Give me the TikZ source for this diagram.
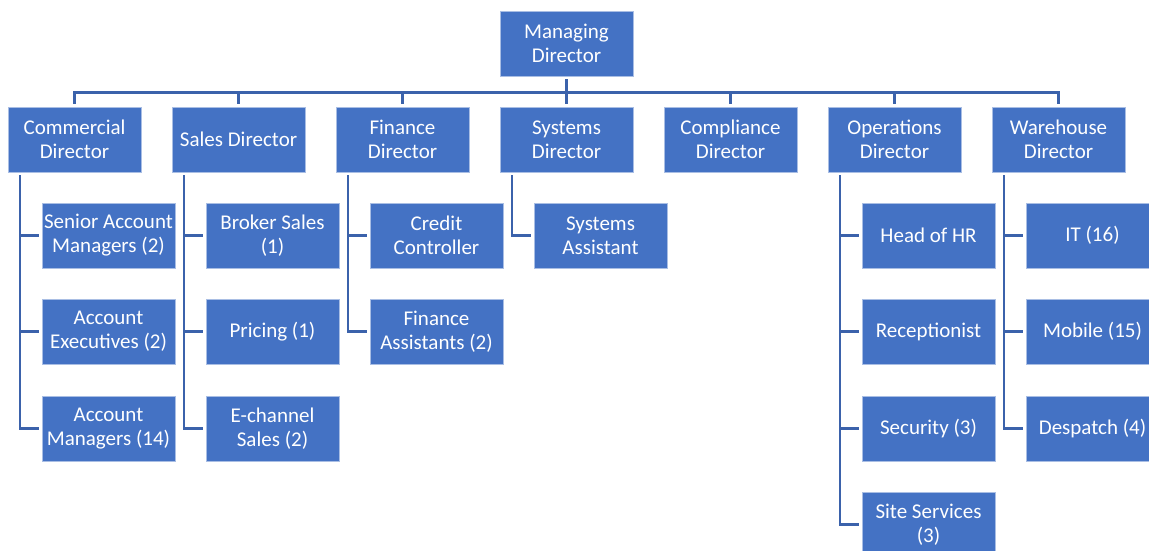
\documentclass[tikz,border=0pt]{standalone}
\usepackage{fontspec}
\setmainfont{Carlito}
\usetikzlibrary{calc}
\definecolor{boxblue}{HTML}{4472C4}
\definecolor{boxedge}{HTML}{A9BEE4}
\definecolor{linkblue}{HTML}{3B62AB}
\begin{document}
\begin{tikzpicture}[x=1pt,y=-1pt,
  orgbox/.style={rectangle, fill=boxblue, draw=boxedge, line width=0.8pt,
    minimum width=133pt, minimum height=65pt, inner sep=0pt, align=center,
    text=white, font=\fontsize{21}{24}\selectfont},
  link/.style={draw=linkblue, line width=2.6pt}]
\useasboundingbox (0,0) rectangle (1149,551);
% top
\node[orgbox] (md) at (566.5,43.5) {Managing\\Director};
% level 1
\node[orgbox] (cd) at (74.5,139.5) {Commercial\\Director};
\node[orgbox] (sd) at (238.5,139.5) {Sales Director};
\node[orgbox] (fd) at (402.5,139.5) {Finance\\Director};
\node[orgbox] (syd) at (566.5,139.5) {Systems\\Director};
\node[orgbox] (cpd) at (730.5,139.5) {Compliance\\Director};
\node[orgbox] (od) at (894.5,139.5) {Operations\\Director};
\node[orgbox] (wd) at (1058.5,139.5) {Warehouse\\Director};
% level 2
\node[orgbox] (c1) at (108.5,235.5) {Senior Account\\Managers (2)};
\node[orgbox] (c2) at (108.5,331.5) {Account\\Executives (2)};
\node[orgbox] (c3) at (108.5,428.5) {Account\\Managers (14)};
\node[orgbox] (s1) at (272.5,235.5) {Broker Sales\\(1)};
\node[orgbox] (s2) at (272.5,331.5) {Pricing (1)};
\node[orgbox] (s3) at (272.5,428.5) {E-channel\\Sales (2)};
\node[orgbox] (f1) at (436.5,235.5) {Credit\\Controller};
\node[orgbox] (f2) at (436.5,331.5) {Finance\\Assistants (2)};
\node[orgbox] (y1) at (600.5,235.5) {Systems\\Assistant};
\node[orgbox] (o1) at (928.5,235.5) {Head of HR};
\node[orgbox] (o2) at (928.5,331.5) {Receptionist};
\node[orgbox] (o3) at (928.5,428.5) {Security (3)};
\node[orgbox] (o4) at (928.5,524.5) {Site Services\\(3)};
\node[orgbox] (w1) at (1092.5,235.5) {IT (16)};
\node[orgbox] (w2) at (1092.5,331.5) {Mobile (15)};
\node[orgbox] (w3) at (1092.5,428.5) {Despatch (4)};
% top bus
\coordinate (bus) at ($(md.south)+(0,16)$);
\foreach \n in {cd,sd,fd,syd,cpd,od,wd}{
  \draw[link] ([yshift=-3pt]md.south) -- (bus) -| ([yshift=3pt]\n.north);
}
% child links
\foreach \p/\c in {cd/c1,cd/c2,cd/c3,sd/s1,sd/s2,sd/s3,fd/f1,fd/f2,syd/y1,od/o1,od/o2,od/o3,od/o4,wd/w1,wd/w2,wd/w3}{
  \draw[link] ([xshift=12.5pt,yshift=-3pt]\p.south west) |- ([xshift=-3pt]\c.west);
}
\end{tikzpicture}
\end{document}
